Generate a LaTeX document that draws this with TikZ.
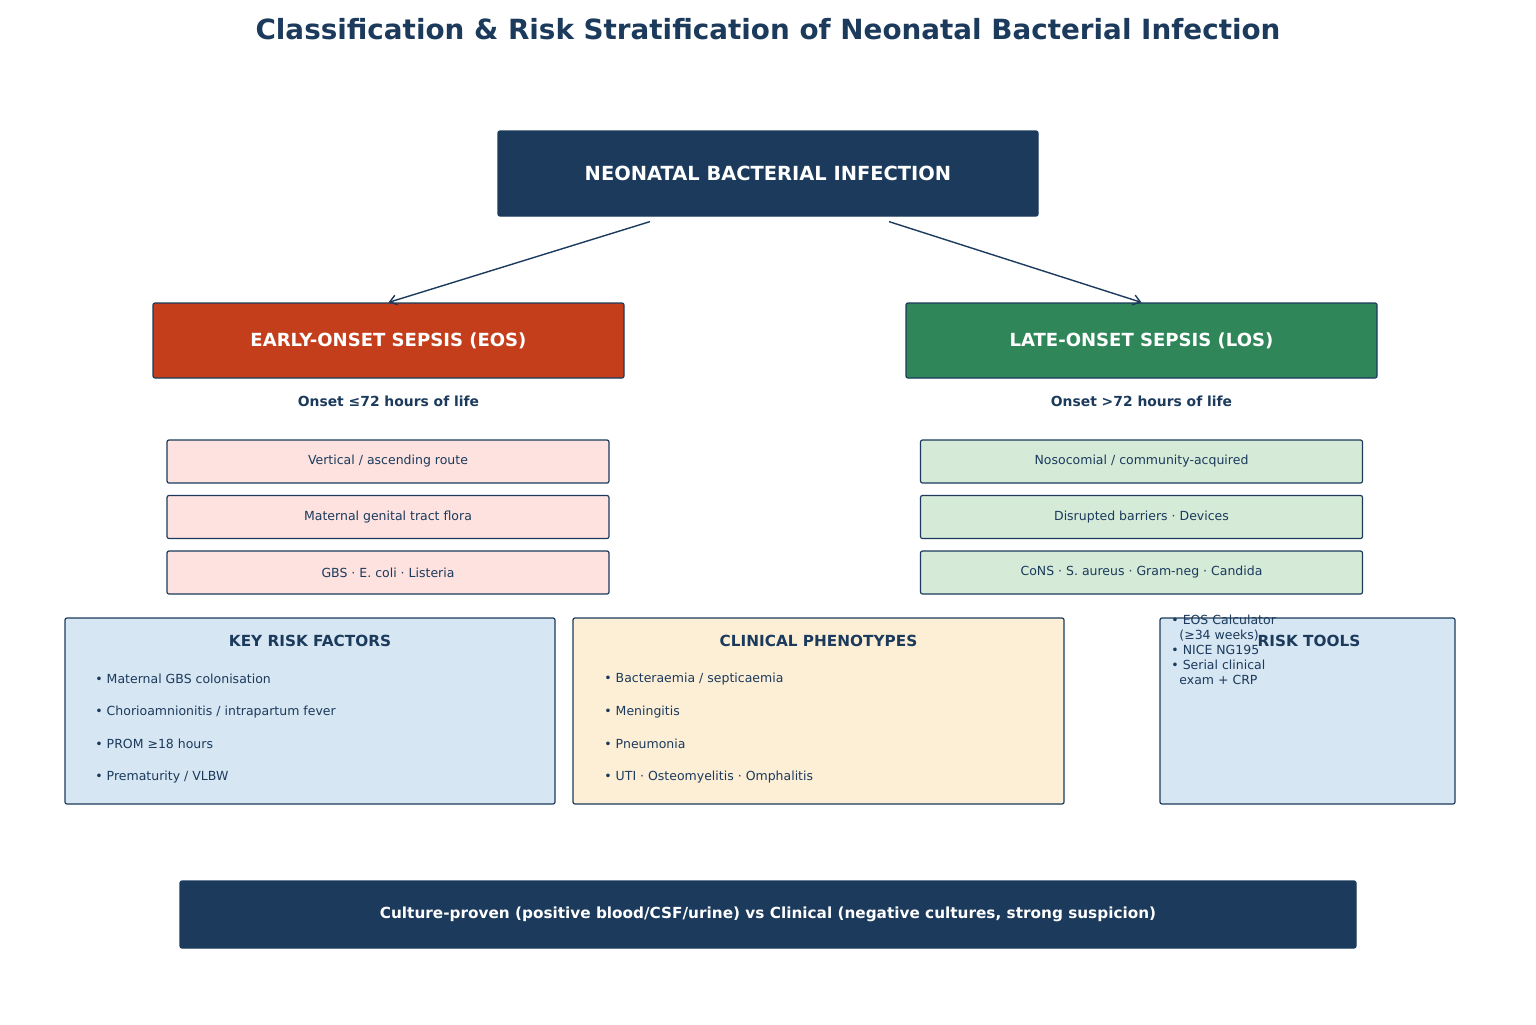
\documentclass[tikz,border=0pt]{standalone}
\usepackage{fontspec}
\setmainfont{DejaVu Sans}
\usetikzlibrary{arrows.meta,positioning}

\definecolor{navy}{HTML}{1B3A5C}
\definecolor{eosred}{HTML}{C43E1C}
\definecolor{losgreen}{HTML}{2E8659}
\definecolor{eoslight}{HTML}{FDE2DF}
\definecolor{loslight}{HTML}{D5EBD8}
\definecolor{riskblue}{HTML}{D6E6F2}
\definecolor{phencream}{HTML}{FCEFD6}

\newcommand{\fs}[1]{\fontsize{#1}{1.2\dimexpr#1pt\relax}\selectfont}

\tikzset{
    box/.style={draw=navy, line width=0.6pt, rounded corners=1pt, inner sep=0pt},
    rootbox/.style={box, fill=navy, text=white, font=\bfseries\fs{9.72}},
    sepsisbox/.style={box, minimum width=235.5pt, minimum height=37.5pt, text=white, font=\bfseries\fs{9.03}},
    featbox/.style={box, minimum width=221pt, minimum height=21.5pt, text=navy, font=\fs{6.25}},
    panel/.style={box, minimum height=93pt},
    head/.style={text=navy, font=\bfseries\fs{7.64}},
    item/.style={text=navy, font=\fs{6.25}, anchor=west, inner sep=0pt},
    link/.style={draw=navy, line width=0.7pt, -{Straight Barb[length=3.5pt,width=5pt]}}
}

\begin{document}
\begin{tikzpicture}[x=0.5pt, y=-0.5pt]
    \useasboundingbox (0,0) rectangle (1536,1024);

    \node[text=navy, font=\bfseries\fs{13.9}] (title) at (768,29) {Classification \& Risk Stratification of Neonatal Bacterial Infection};

    \node[rootbox, minimum width=270pt, minimum height=42.5pt] (root) at (768,173.5) {NEONATAL BACTERIAL INFECTION};

    \node[sepsisbox, fill=eosred] (eos) at (388.5,340.5) {EARLY-ONSET SEPSIS (EOS)};
    \node[sepsisbox, fill=losgreen] (los) at (1141.5,340.5) {LATE-ONSET SEPSIS (LOS)};

    \draw[link] ([xshift=-59pt, yshift=-2.5pt]root.south) -- (eos.north);
    \draw[link] ([xshift=60.5pt, yshift=-2.5pt]root.south) -- (los.north);

    \node[text=navy, font=\bfseries\fs{6.94}] (eosonset) at (388.5,401) {Onset ≤72 hours of life};
    \node[text=navy, font=\bfseries\fs{6.94}] (losonset) at (1141.5,401) {Onset >72 hours of life};

    \foreach \y/\t [count=\i] in {461.5/{Vertical / ascending route}, 517/{Maternal genital tract flora}, 572.5/{GBS · E. coli · Listeria}}{
        \node[featbox, fill=eoslight] (eosf\i) at (388,\y) {\t};
    }
    \foreach \y/\t [count=\i] in {461.5/{Nosocomial / community-acquired}, 517/{Disrupted barriers · Devices}, 572.5/{CoNS · S. aureus · Gram-neg · Candida}}{
        \node[featbox, fill=loslight] (losf\i) at (1141.5,\y) {\t};
    }

    \node[panel, fill=riskblue, minimum width=245pt] (factors) at (310,711) {};
    \node[panel, fill=phencream, minimum width=245.5pt] (pheno) at (818.5,711) {};
    \node[panel, fill=riskblue, minimum width=147.5pt] (tools) at (1307.5,711) {};

    \node[head] (factorshead) at (310,641) {KEY RISK FACTORS};
    \node[head] (phenohead) at (818.5,641) {CLINICAL PHENOTYPES};
    \node[head] (toolshead) at (1309,641) {RISK TOOLS};

    \foreach \y/\t [count=\i] in {679/{Maternal GBS colonisation}, 712/{Chorioamnionitis / intrapartum fever}, 744/{PROM ≥18 hours}, 777/{Prematurity / VLBW}}{
        \node[item] (factor\i) at (95,\y) {• \t};
    }
    \foreach \y/\t [count=\i] in {679/{Bacteraemia / septicaemia}, 712/{Meningitis}, 744/{Pneumonia}, 777/{UTI · Osteomyelitis · Omphalitis}}{
        \node[item] (pheno\i) at (604,\y) {• \t};
    }

    \node[item, anchor=north west, align=left, font=\fontsize{6.25}{7.5}\selectfont] (toollist) at (1171,615)
        {• EOS Calculator\\\hspace*{0.64em}(≥34 weeks)\\• NICE NG195\\• Serial clinical\\\hspace*{0.64em}exam + CRP};

    \node[rootbox, minimum width=588pt, minimum height=33.5pt, font=\bfseries\fs{7.64}] (verdict) at (768,914.5)
        {Culture-proven (positive blood/CSF/urine) vs Clinical (negative cultures, strong suspicion)};
\end{tikzpicture}
\end{document}
